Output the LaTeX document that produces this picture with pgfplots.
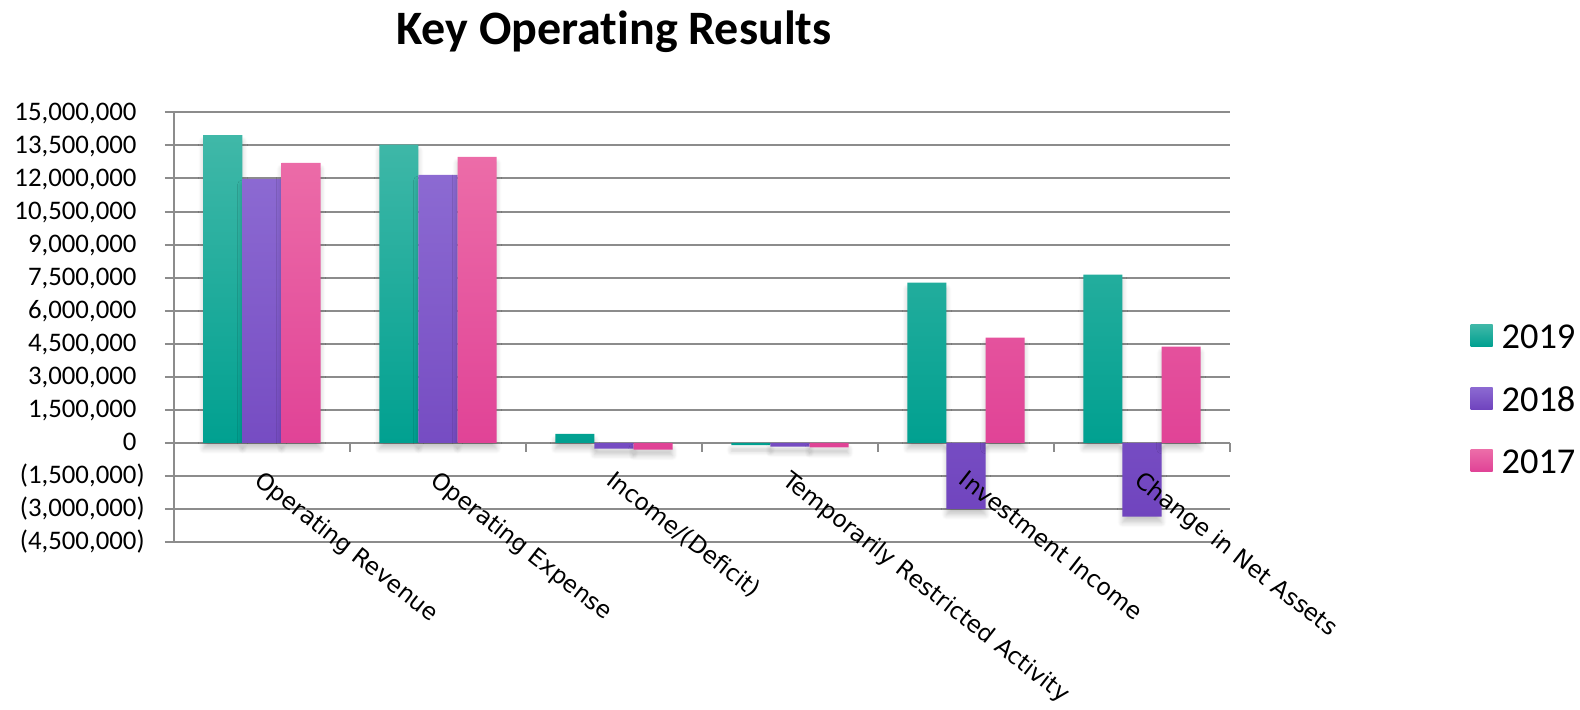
\documentclass[border=0pt]{standalone}
\usepackage{pgfplots}
\pgfplotsset{compat=1.18}
\usepackage{pgfplotstable}
\usepackage{fontspec}
\usetikzlibrary{shadows.blur}
\setmainfont{Carlito}[Ligatures=NoCommon]
\newfontfamily\catfont{DejaVu Sans}

\definecolor{axgray}{RGB}{140,140,140}
\definecolor{tealT}{RGB}{64,184,168}
\definecolor{tealB}{RGB}{0,160,144}
\definecolor{purpT}{RGB}{140,106,210}
\definecolor{purpB}{RGB}{112,68,190}
\definecolor{pinkT}{RGB}{236,108,168}
\definecolor{pinkB}{RGB}{224,66,150}

% values in dollars
\pgfplotstableread{
cat y2019 y2018 y2017
0 13970000 11980000 12710000
1 13540000 12160000 12980000
2 410000 -260000 -310000
3 -100000 -170000 -210000
4 7270000 -3000000 4780000
5 7640000 -3350000 4370000
}\datatable

\tikzset{
    catlabel/.style={font=\catfont\fontsize{11.65}{14}\selectfont, anchor=north west,
        inner sep=0pt, yshift=-13pt, xshift=1pt, rotate=-38},
    barshadow/.style={blur shadow={shadow xshift=0pt, shadow yshift=-3pt,
        shadow blur radius=2.5pt, shadow blur steps=6, shadow opacity=22}},
}

\begin{document}
\begin{tikzpicture}
\useasboundingbox (-87pt,-84pt) rectangle (703pt,271pt);
\begin{axis}[
    name=ax,
    at={(0,0)}, anchor=south west,
    scale only axis,
    width=528pt, height=214.8pt,
    xmin=-0.5, xmax=5.5,
    ymin=-4500000, ymax=15000000,
    axis y line*=left,
    axis x line*=middle,
    axis line style={draw=axgray, line width=1pt},
    tick style={draw=axgray, line width=1pt},
    tick align=outside,
    major tick length=4.5pt,
    ymajorgrids,
    major grid style={draw=axgray, line width=1pt},
    scaled y ticks=false,
    ytick={-4500000,-3000000,-1500000,0,1500000,3000000,4500000,6000000,7500000,9000000,10500000,12000000,13500000,15000000},
    yticklabels={{(4,500,000)},{(3,000,000)},{(1,500,000)},{0\phantom{)}},{1,500,000\phantom{)}},{3,000,000\phantom{)}},{4,500,000\phantom{)}},{6,000,000\phantom{)}},{7,500,000\phantom{)}},{9,000,000\phantom{)}},{10,500,000\phantom{)}},{12,000,000\phantom{)}},{13,500,000\phantom{)}},{15,000,000\phantom{)}}},
    yticklabel style={font=\fontsize{13.4}{15}\selectfont, anchor=east, inner sep=0pt, xshift=-10pt},
    xtick={-0.5,0.5,1.5,2.5,3.5,4.5,5.5},
    xticklabels={},
    % legend squares without the shadow
    legend image code/.code={\path[#1, blur shadow={shadow opacity=0}] (0pt,-4.9pt) rectangle (11pt,6.1pt);},
    legend style={draw=none, fill=none, at={(axis description cs:1.2275,0.3324)}, anchor=west,
        inner sep=0pt, row sep=19.25pt, font=\fontsize{18.2}{22}\selectfont,
        nodes={inner sep=0pt, text height=12pt, text depth=0pt}},
    legend cell align=left,
    /tikz/every odd column/.append style={column sep=4.5pt},
    clip=false,
]
\addplot[ybar, bar width=0.222, bar shift=-0.222, draw=none, barshadow, top color=tealT, bottom color=tealB]
    table[x=cat, y=y2019]{\datatable};
\addlegendentry{2019}
\addplot[ybar, bar width=0.222, bar shift=0, draw=none, barshadow, top color=purpT, bottom color=purpB]
    table[x=cat, y=y2018]{\datatable};
\addlegendentry{2018}
\addplot[ybar, bar width=0.222, bar shift=0.222, draw=none, barshadow, top color=pinkT, bottom color=pinkB]
    table[x=cat, y=y2017]{\datatable};
\addlegendentry{2017}
% category names, drawn after the bars so that they lie over them
\node[catlabel] at (axis cs:0,0) {Operating Revenue};
\node[catlabel] at (axis cs:1,0) {Operating Expense};
\node[catlabel] at (axis cs:2,0) {Income/(Deficit)};
\node[catlabel] at (axis cs:3,0) {Temporarily Restricted Activity};
\node[catlabel] at (axis cs:4,0) {Investment Income};
\node[catlabel] at (axis cs:5,0) {Change in Net Assets};
\end{axis}
\node[anchor=base, font=\fontsize{24}{28}\selectfont\bfseries] at (220pt,248.5pt) {Key Operating Results};
\end{tikzpicture}
\end{document}
